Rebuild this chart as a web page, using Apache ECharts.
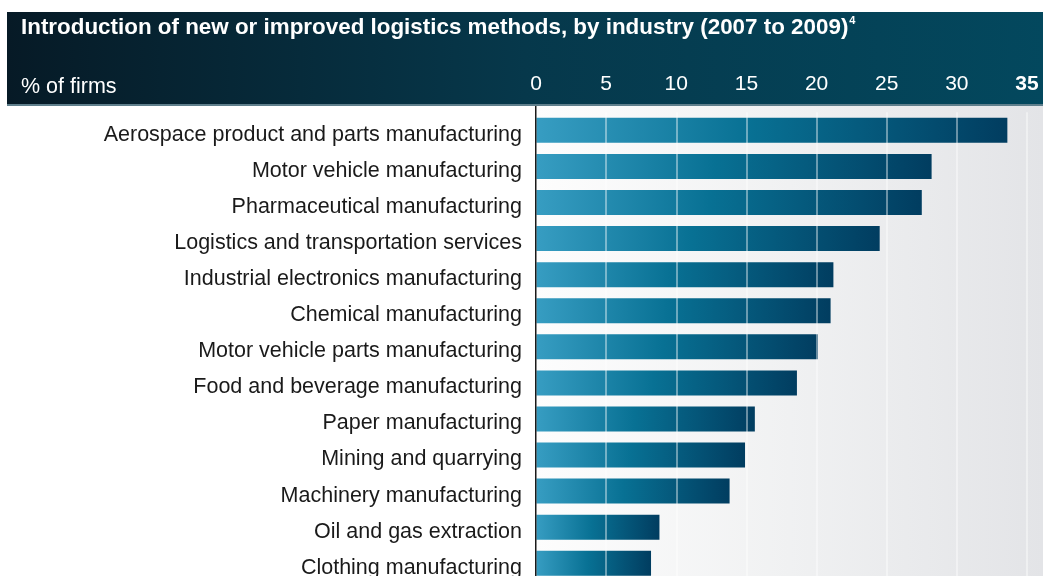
<!DOCTYPE html>
<html><head><meta charset="utf-8">
<script src="https://cdn.jsdelivr.net/npm/echarts@6/dist/echarts.min.js"></script>
<style>html,body{margin:0;padding:0;background:#fff}#c{width:1043px;height:576px}</style>
</head><body><div id="c"></div>
<script>
const categories = [
  "Aerospace product and parts manufacturing",
  "Motor vehicle manufacturing",
  "Pharmaceutical manufacturing",
  "Logistics and transportation services",
  "Industrial electronics manufacturing",
  "Chemical manufacturing",
  "Motor vehicle parts manufacturing",
  "Food and beverage manufacturing",
  "Paper manufacturing",
  "Mining and quarrying",
  "Machinery manufacturing",
  "Oil and gas extraction",
  "Clothing manufacturing"
];
const values = [33.6, 28.2, 27.5, 24.5, 21.2, 21.0, 20.1, 18.6, 15.6, 14.9, 13.8, 8.8, 8.2];
const tickMax = 35;
const title = "Introduction of new or improved logistics methods, by industry (2007 to 2009)";
const titleNote = "4";
const unitLabel = "% of firms";

const chart = echarts.init(document.getElementById('c'), null, {renderer: 'canvas'});
const G = echarts.graphic;
const FONT = '"Liberation Sans", Arial, Helvetica, sans-serif';
chart.setOption({
  animation: false,
  backgroundColor: '#ffffff',
  graphic: [
    {type: 'rect', z: -10, silent: true, shape: {x: 536, y: 106, width: 507, height: 470},
     style: {fill: new G.LinearGradient(0, 0, 1, 0, [{offset: 0, color: '#fdfdfd'}, {offset: 0.5, color: '#f0f1f2'}, {offset: 1, color: '#e3e4e7'}])}},
    {type: 'rect', z: -5, silent: true, shape: {x: 7, y: 12, width: 1036, height: 93},
     style: {fill: new G.LinearGradient(0, 0, 1, 0, [{offset: 0, color: '#061a26'}, {offset: 0.5, color: '#06384b'}, {offset: 1, color: '#03485e'}])}},
    {type: 'rect', z: -4, silent: true, shape: {x: 7, y: 104, width: 1036, height: 2},
     style: {fill: '#5f7f8c'}},
    {type: 'rect', z: 10, silent: true, shape: {x: 535, y: 106, width: 1.5, height: 470},
     style: {fill: '#1a1a1a'}},
    {type: 'text', z: 10, left: 21, top: 15, silent: true,
     style: {text: '{t|' + title + '}{s|' + titleNote + '}', fill: '#ffffff',
       rich: {
         t: {fontFamily: FONT, fontWeight: 'bold', fontSize: 22.4, color: '#ffffff', lineHeight: 25},
         s: {fontFamily: FONT, fontWeight: 'bold', fontSize: 11, color: '#ffffff', verticalAlign: 'top', lineHeight: 25, padding: [0, 0, 10, 1]}
       }}},
    {type: 'text', z: 10, left: 21, top: 76, silent: true,
     style: {text: unitLabel, fill: '#ffffff', font: '21.5px ' + FONT}}
  ],
  grid: {left: 536, right: 16, top: 112.3, height: 469, containLabel: false, outerBoundsMode: 'none'},
  xAxis: {
    type: 'value', position: 'top', min: 0, max: tickMax, interval: 5, z: 5,
    axisLine: {show: false}, axisTick: {show: false},
    splitLine: {show: true, lineStyle: {color: 'rgba(255,255,255,0.55)', width: 1.5}},
    axisLabel: {
      margin: 18, color: '#ffffff', fontSize: 21, fontFamily: FONT,
      formatter: v => v === tickMax ? '{b|' + v + '}' : String(v),
      rich: {b: {fontWeight: 'bold', fontSize: 21, color: '#ffffff', fontFamily: FONT}}
    }
  },
  yAxis: {
    type: 'category', inverse: true, data: categories,
    axisLine: {show: false}, axisTick: {show: false},
    axisLabel: {
      margin: 14, color: '#1a1a1a', fontSize: 21.5, fontFamily: FONT,
      formatter: v => '{a|' + v + '}',
      rich: {a: {color: '#1a1a1a', fontSize: 21.5, fontFamily: FONT, lineHeight: 24, padding: [9, 0, 0, 0]}}
    }
  },
  series: [{
    type: 'bar', data: values, barWidth: 25,
    itemStyle: {color: new G.LinearGradient(0, 0, 1, 0, [
      {offset: 0, color: '#379dc2'}, {offset: 0.45, color: '#087194'}, {offset: 1, color: '#013d60'}
    ])}
  }]
});
</script></body></html>
